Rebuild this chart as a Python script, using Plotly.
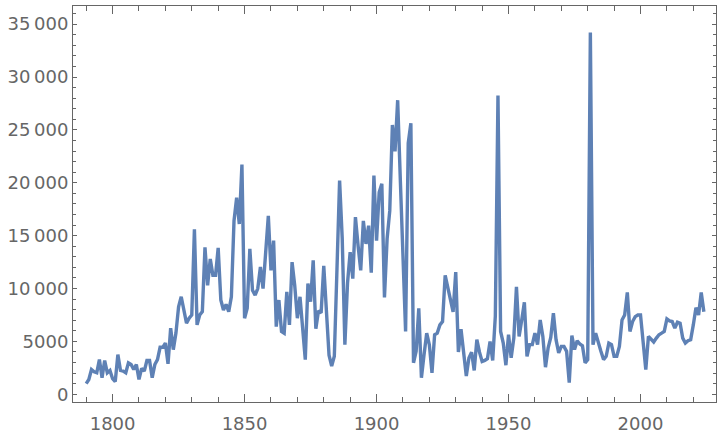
import plotly.graph_objects as go

years = list(range(1790, 2025))
values = [
    1000, 1400, 2340, 2130, 2030, 3280, 1560, 3190, 2030, 2250,      # 1790s
    1470, 1190, 3750, 2250, 2190, 2030, 2970, 2810, 2340, 2810,      # 1800s
    1400, 2440, 2190, 3190, 3190, 1560, 2810, 3280, 4440, 4440,      # 1810s
    4840, 2875, 6250, 4220, 5780, 8280, 9220, 7970, 6720, 7190,      # 1820s
    7500, 15600, 6560, 7500, 7810, 13900, 10300, 12800, 11250, 11250,  # 1830s
    13840, 8910, 7970, 8500, 7810, 9220, 16400, 18600, 16100, 21720,  # 1840s
    7190, 8130, 13750, 9840, 9380, 10000, 12030, 10000, 14060, 16870,  # 1850s
    11720, 14530, 6400, 8910, 5940, 5780, 9690, 6560, 12500, 10300,   # 1860s
    7190, 9220, 6250, 3280, 10470, 8750, 12660, 6200, 7900, 7700,      # 1870s
    12150, 7800, 3700, 2660, 3600, 11800, 20200, 14700, 4690, 10500,   # 1880s
    13440, 10940, 16760, 14060, 11720, 16400, 14220, 15940, 11500, 20690,  # 1890s
    14530, 19100, 19900, 9150, 14690, 17340, 25470, 22970, 27810, 20310,   # 1900s
    13440, 5940, 23750, 25630, 2970, 4060, 8130, 1560, 3750, 5780,     # 1910s
    4690, 2030, 5630, 5780, 6560, 6880, 11250, 10160, 8800, 7800,      # 1920s
    11560, 4000, 6150, 4150, 1720, 3440, 3980, 2250, 5160, 3980,       # 1930s
    3100, 3200, 3360, 5000, 3200, 7400, 28250, 5940, 4840, 2750,       # 1940s
    5630, 3440, 5310, 10160, 5470, 7030, 8690, 3590, 4690, 4690,       # 1950s
    5780, 4690, 7030, 5470, 2560, 4380, 5380, 7660, 5160, 3910,        # 1960s
    4530, 4530, 4060, 1090, 5560, 4220, 5060, 4750, 4590, 2970,        # 1970s
    3280, 34200, 4690, 5780, 4840, 4060, 3280, 3590, 4840, 4690,       # 1980s
    3590, 3590, 4530, 7030, 7500, 9630, 5940, 6880, 7340, 7500,        # 1990s
    7500, 4530, 2340, 5470, 5160, 4940, 5310, 5630, 5780, 5940,        # 2000s
    7130, 6940, 6880, 6250, 6810, 6720, 5310, 4840, 5060, 5160,        # 2010s
    6560, 8190, 7500, 9630, 7810,                                      # 2020s
]

x_tick_vals = [1800, 1850, 1900, 1950, 2000]
x_minor_vals = [y for y in range(1790, 2030, 10) if y % 50 != 0]
y_tick_vals = [0, 5000, 10000, 15000, 20000, 25000, 30000, 35000]
y_tick_text = ["0", "5000", "10\u2009000", "15\u2009000", "20\u2009000",
               "25\u2009000", "30\u2009000", "35\u2009000"]
y_minor_vals = [v for v in range(0, 37000, 1000) if v % 5000 != 0]

GRAY = "#666666"
LINE = "#5E81B5"

fig = go.Figure(
    go.Scatter(x=years, y=values, mode="lines",
               line=dict(color=LINE, width=3.4), hoverinfo="skip")
)

fig.update_layout(
    width=720, height=436,
    margin=dict(l=73.3, r=2.7, t=5.7, b=31.5, pad=0),
    plot_bgcolor="white", paper_bgcolor="white",
    showlegend=False,
    font=dict(family="DejaVu Sans", size=18, color=GRAY),
)

fig.update_xaxes(
    range=[1785.0, 2028.6],
    tickmode="array", tickvals=x_tick_vals,
    ticks="inside", ticklen=8, tickwidth=1, tickcolor=GRAY,
    showline=True, linecolor=GRAY, linewidth=1, mirror="ticks",
    showgrid=False, zeroline=False, ticklabelstandoff=5,
    minor=dict(tickmode="array", tickvals=x_minor_vals, ticks="inside",
               ticklen=5, tickwidth=1, tickcolor=GRAY, showgrid=False),
    tickfont=dict(family="DejaVu Sans", size=18, color=GRAY),
)

fig.update_yaxes(
    range=[-732, 36718],
    tickmode="array", tickvals=y_tick_vals, ticktext=y_tick_text,
    ticks="inside", ticklen=4, tickwidth=1, tickcolor=GRAY,
    showline=True, linecolor=GRAY, linewidth=1, mirror="ticks",
    showgrid=False, zeroline=False,
    minor=dict(tickmode="array", tickvals=y_minor_vals, ticks="inside",
               ticklen=2.7, tickwidth=1, tickcolor=GRAY, showgrid=False),
    tickfont=dict(family="DejaVu Sans", size=18, color=GRAY),
)

fig.write_html(
    "out.html",
    config={"displayModeBar": False},
    post_script="document.body.style.margin='0';document.body.style.overflow='hidden';",
)
